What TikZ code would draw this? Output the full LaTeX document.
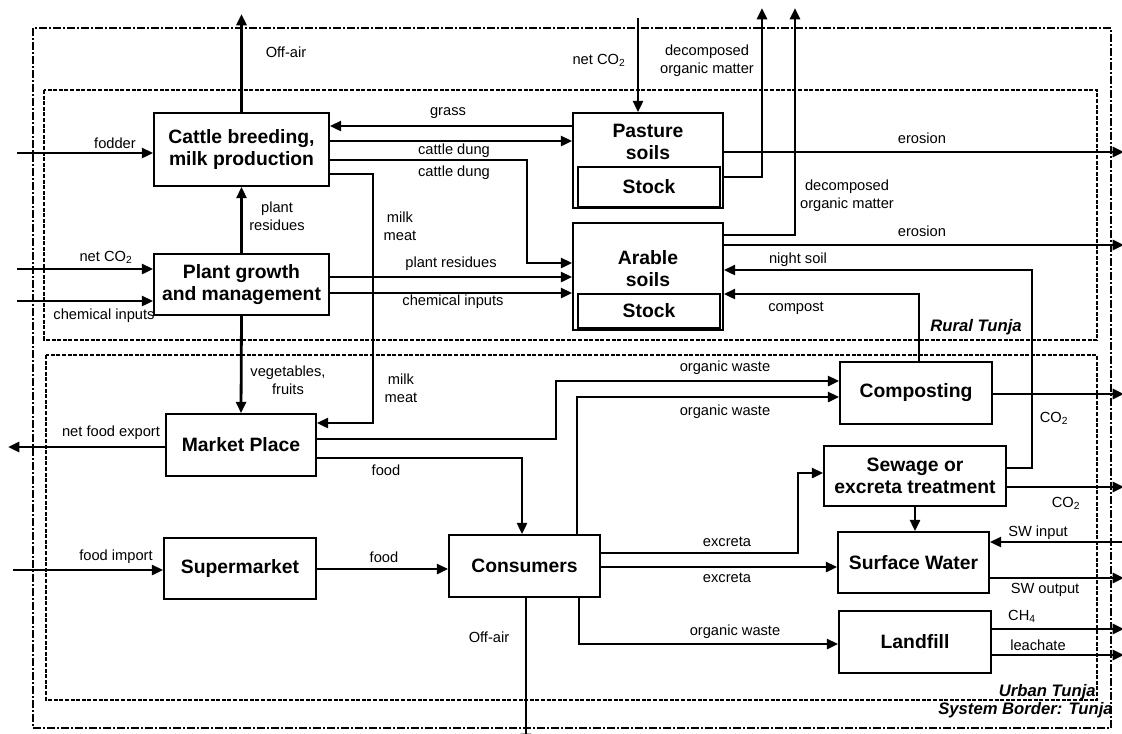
\documentclass[tikz,border=0pt]{standalone}
\usepackage{fontspec}
\setmainfont{Liberation Sans}
\usetikzlibrary{arrows.meta}

\begin{document}
\begin{tikzpicture}[x=0.75pt,y=0.75pt,yscale=-1,xscale=1,
    box/.style={draw, line width=1.3pt, inner sep=0pt, align=center, font=\fontsize{14.5}{16.5}\selectfont\bfseries},
    flow/.style={line width=2.1pt, -{Triangle[length=8.5pt,width=7.5pt]}},
    lbl/.style={inner sep=0.75pt, align=center, font=\fontsize{11}{13.5}\selectfont},
    zonelbl/.style={inner sep=0.75pt, anchor=east, font=\fontsize{12.5}{14}\selectfont\bfseries\itshape},
    border/.style={line width=1.9pt, dash pattern=on 6pt off 1.5pt on 1.5pt off 1.5pt},
    zone/.style={line width=1.4pt, dash pattern=on 3pt off 1.2pt}]
    \useasboundingbox (0,0) rectangle (1122,733);

    %Shape: System border and zones
    \draw [border] (33,28) rectangle (1111,728);
    \draw [zone] (44,90) rectangle (1097,340);
    \draw [zone] (46,355) rectangle (1097,700);

    %Shape: Rural boxes
    \node [box, minimum width=131.25pt, minimum height=54.75pt] (cattle) at (241.5,149.5) {Cattle breeding,\\milk production};
    \node [box, minimum width=131.25pt, minimum height=45.75pt] (plant) at (241.5,284.5) {Plant growth\\and management};
    \node [box, minimum width=112.5pt, minimum height=71.25pt] (pasture) at (648,160.5) {};
    \node [box, draw=none] (pasturetxt) at (648,142) {Pasture\\soils};
    \node [box, minimum width=106.5pt, minimum height=30pt] (pasturestock) at (649,187) {Stock};
    \node [box, minimum width=112.5pt, minimum height=80.25pt] (arable) at (648,276.5) {};
    \node [box, draw=none] (arabletxt) at (648,269) {Arable\\soils};
    \node [box, minimum width=106.5pt, minimum height=25.5pt] (arablestock) at (649,311) {Stock};

    %Shape: Urban boxes
    \node [box, minimum width=112.5pt, minimum height=46.5pt] (market) at (241,445) {Market Place};
    \node [box, minimum width=114pt, minimum height=45.75pt] (supermarket) at (240,568.5) {Supermarket};
    \node [box, minimum width=113.25pt, minimum height=46.5pt] (consumers) at (524.5,566) {Consumers};
    \node [box, minimum width=114pt, minimum height=46.5pt] (composting) at (916,393) {Composting};
    \node [box, minimum width=136.5pt, minimum height=45pt] (sewage) at (915,476) {Sewage or\\excreta treatment};
    \node [box, minimum width=113.25pt, minimum height=45.75pt] (surface) at (913.5,562.5) {Surface Water};
    \node [box, minimum width=114pt, minimum height=46.5pt] (landfill) at (915,642) {Landfill};

    %Free ends
    \coordinate (offair1) at (241.5,14);
    \coordinate (fodderin) at (17,153);
    \coordinate (co2in) at (17,269);
    \coordinate (chemin) at (17,301);
    \coordinate (co2top) at (638,18);
    \coordinate (dom1) at (762,8);
    \coordinate (dom2) at (795,8);
    \coordinate (eros1) at (1124,152);
    \coordinate (eros2) at (1124,245);
    \coordinate (co2comp) at (1124,394);
    \coordinate (co2sew) at (1124,487);
    \coordinate (swin) at (1124,542);
    \coordinate (swout) at (1124,578);
    \coordinate (ch4) at (1124,629);
    \coordinate (leach) at (1124,655);
    \coordinate (export) at (8,447);
    \coordinate (import) at (13,570);
    \coordinate (offair2) at (526,745);

    %Flows: rural
    \draw [flow] (cattle.north) -- (offair1);
    \draw [flow] (fodderin) -- (fodderin -| cattle.west);
    \draw [flow] (pasture.west |- 0,126) -- (cattle.east |- 0,126);
    \draw [flow] (cattle.east |- 0,141) -- (pasture.west |- 0,141);
    \draw [flow] (cattle.east |- 0,160) -- (527,160) |- (arable.west |- 0,263);
    \draw [flow] (cattle.east |- 0,174) -- (373,174) |- (market.east |- 0,423);
    \draw [flow] (plant.north) -- (cattle.south);
    \draw [flow] (co2in) -- (co2in -| plant.west);
    \draw [flow] (chemin) -- (chemin -| plant.west);
    \draw [flow] (plant.east |- 0,277) -- (arable.west |- 0,277);
    \draw [flow] (plant.east |- 0,293) -- (arable.west |- 0,293);
    \draw [flow] (plant.south) -- (market.north);
    \draw [flow] (co2top) -- (co2top |- pasture.north);
    \draw [flow] (pasture.east |- 0,177) -| (dom1);
    \draw [flow] (arable.east |- 0,235) -| (dom2);
    \draw [flow] (pasture.east |- eros1) -- (eros1);
    \draw [flow] (arable.east |- eros2) -- (eros2);
    \draw [flow] (sewage.east |- 0,468) -- (1032,468) |- (arable.east |- 0,270);
    \draw [flow] (composting.north -| 919,0) |- (arable.east |- 0,294);

    %Flows: urban
    \draw [flow] (composting.east |- co2comp) -- (co2comp);
    \draw [flow] (sewage.east |- co2sew) -- (co2sew);
    \draw [flow] (sewage.south) -- (sewage.south |- surface.north);
    \draw [flow] (swin) -- (swin -| surface.east);
    \draw [flow] (surface.east |- swout) -- (swout);
    \draw [flow] (landfill.east |- ch4) -- (ch4);
    \draw [flow] (landfill.east |- leach) -- (leach);
    \draw [flow] (market.west |- export) -- (export);
    \draw [flow] (market.east |- 0,439) -- (556,439) |- (composting.west |- 0,381);
    \draw [flow] (consumers.north -| 577,0) |- (composting.west |- 0,397);
    \draw [flow] (market.east |- 0,458) -| (consumers.north -| 522,0);
    \draw [flow] (import) -- (import -| supermarket.west);
    \draw [flow] (supermarket.east |- 0,569) -- (consumers.west |- 0,569);
    \draw [flow] (consumers.east |- 0,553) -- (798,553) |- (sewage.west |- 0,473);
    \draw [flow] (consumers.east |- 0,567) -- (surface.west |- 0,567);
    \draw [flow] (consumers.south -| 579,0) |- (landfill.west |- 0,644);
    \draw [flow] (consumers.south -| 526,0) -- (offair2);

    % Text Node
    \node [lbl] (offair1lbl) at (286,52) {Off-air};
    \node [lbl] (fodderlbl) at (115,143) {fodder};
    \node [lbl] (grasslbl) at (448,113) {grass};
    \node [lbl] (dung1lbl) at (454,151) {cattle dung};
    \node [lbl] (dung2lbl) at (454,173) {cattle dung};
    \node [lbl] (milk1lbl) at (400,226) {milk\\meat};
    \node [lbl] (resid1lbl) at (277,216) {plant\\residues};
    \node [lbl] (co2inlbl) at (106,257) {net CO\textsubscript{2}};
    \node [lbl] (cheminlbl) at (104,316) {chemical inputs};
    \node [lbl] (resid2lbl) at (451,264) {plant residues};
    \node [lbl] (chem2lbl) at (453,302) {chemical inputs};
    \node [lbl] (veglbl) at (288,380) {vegetables,\\fruits};
    \node [lbl] (milk2lbl) at (401,388) {milk\\meat};
    \node [lbl] (co2toplbl) at (599,60) {net CO\textsubscript{2}};
    \node [lbl] (dom1lbl) at (707,61) {decomposed\\organic matter};
    \node [lbl] (dom2lbl) at (847,196) {decomposed\\organic matter};
    \node [lbl] (eros1lbl) at (922,138) {erosion};
    \node [lbl] (eros2lbl) at (922,231) {erosion};
    \node [lbl] (nightlbl) at (798,260) {night soil};
    \node [lbl] (compostlbl) at (796,308) {compost};
    \node [zonelbl] (rurallbl) at (1023,327) {Rural Tunja};
    \node [lbl] (waste1lbl) at (725,368) {organic waste};
    \node [lbl] (waste2lbl) at (725,412) {organic waste};
    \node [lbl] (co2complbl) at (1054,418) {CO\textsubscript{2}};
    \node [lbl] (exportlbl) at (111,433) {net food export};
    \node [lbl] (food1lbl) at (386,470) {food};
    \node [lbl] (co2sewlbl) at (1066,503) {CO\textsubscript{2}};
    \node [lbl] (swinlbl) at (1038,533) {SW input};
    \node [lbl] (excr1lbl) at (727,542) {excreta};
    \node [lbl] (importlbl) at (116,557) {food import};
    \node [lbl] (food2lbl) at (384,557) {food};
    \node [lbl] (excr2lbl) at (727,578) {excreta};
    \node [lbl] (swoutlbl) at (1045,590) {SW output};
    \node [lbl] (ch4lbl) at (1022,616) {CH\textsubscript{4}};
    \node [lbl] (waste3lbl) at (735,632) {organic waste};
    \node [lbl] (offair2lbl) at (489,637) {Off-air};
    \node [lbl] (leachlbl) at (1038,645) {leachate};
    \node [zonelbl] (urbanlbl) at (1097,692) {Urban Tunja};
    \node [zonelbl] (systemlbl) at (1114,710) {System Border: Tunja};

\end{tikzpicture}
\end{document}
